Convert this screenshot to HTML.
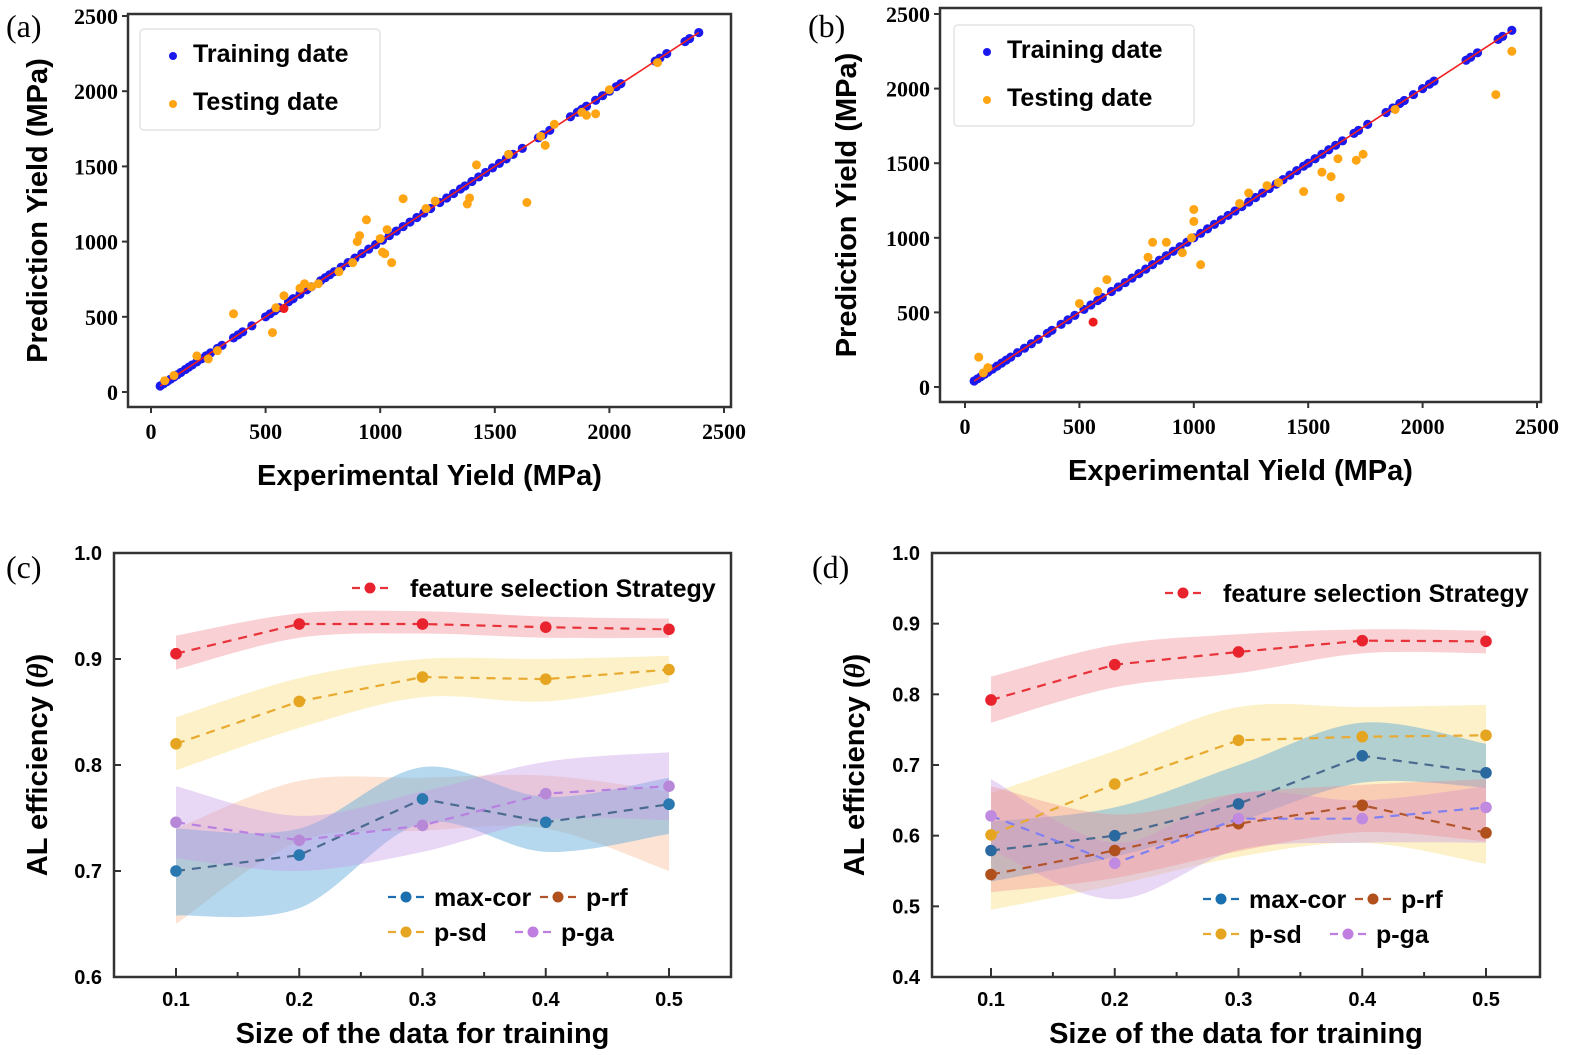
<!DOCTYPE html>
<html><head><meta charset="utf-8">
<style>
html,body{margin:0;padding:0;background:#fff;}
svg{display:block;}
.tk{font-family:"Liberation Serif",serif;font-weight:bold;font-size:22px;fill:#000;}
.tks{font-family:"Liberation Sans",sans-serif;font-weight:bold;font-size:20px;fill:#000;}
.ttl{font-family:"Liberation Sans",sans-serif;font-weight:bold;font-size:29px;fill:#000;}
.lg{font-family:"Liberation Sans",sans-serif;font-weight:bold;font-size:25px;fill:#000;}
.pl{font-family:"Liberation Serif",serif;font-size:32px;fill:#000;}
</style></head>
<body>
<svg id="fig" width="1571" height="1055" viewBox="0 0 1571 1055" xmlns="http://www.w3.org/2000/svg"></svg>
<script>
// ---------- data: scatter panels ----------
const trainA = [40,55,70,85,100,115,130,150,165,180,200,220,240,260,290,310,360,380,400,440,500,520,540,560,600,620,650,680,700,740,760,780,800,830,860,890,920,950,980,1010,1040,1070,1100,1130,1160,1190,1220,1260,1290,1320,1350,1370,1400,1430,1460,1490,1520,1550,1580,1620,1690,1710,1740,1830,1860,1880,1900,1940,1970,2000,2030,2050,2200,2220,2250,2330,2350,2390];
const trainB = [40,55,70,85,100,120,140,160,180,200,230,260,290,320,360,380,420,450,480,520,550,580,600,640,670,700,730,760,790,820,850,880,910,940,970,1000,1030,1060,1090,1120,1150,1180,1210,1240,1270,1300,1330,1360,1390,1420,1450,1480,1500,1530,1560,1590,1620,1650,1700,1720,1760,1840,1870,1900,1920,1960,2000,2030,2050,2190,2210,2240,2330,2350,2390];
const testAx = [60,100,200,250,290,360,530,545,580,650,670,700,730,820,880,900,910,940,1000,1010,1020,1030,1050,1100,1200,1240,1380,1390,1420,1560,1640,1700,1720,1760,1880,1900,1940,2000,2210];
const testAy = [75,110,240,220,275,520,395,560,640,690,720,700,720,800,860,1000,1040,1145,1020,930,920,1080,860,1285,1220,1270,1250,1290,1510,1580,1260,1700,1640,1780,1860,1840,1850,2010,2190];
const testBx = [60,80,100,500,580,620,800,820,880,950,990,1000,1000,1030,1200,1240,1320,1370,1480,1560,1600,1630,1640,1710,1740,1880,2320,2390];
const testBy = [200,95,130,560,640,720,870,970,970,900,1000,1190,1110,820,1230,1300,1350,1370,1310,1440,1410,1530,1270,1520,1560,1860,1960,2250];
const redAx=[580], redAy=[555];
const redBx=[560], redBy=[435];
const scTicks=[0,500,1000,1500,2000,2500];

// ---------- data: AL efficiency panels ----------
const sizes=[0.1,0.2,0.3,0.4,0.5];
const cTicks=[0.6,0.7,0.8,0.9,1.0];
const dTicks=[0.4,0.5,0.6,0.7,0.8,0.9,1.0];
const cRed=[0.905,0.933,0.933,0.930,0.928], cRedLo=[0.890,0.920,0.924,0.920,0.920], cRedHi=[0.922,0.943,0.945,0.940,0.938];
const cSd=[0.820,0.860,0.883,0.881,0.890], cSdLo=[0.795,0.835,0.864,0.860,0.878], cSdHi=[0.845,0.882,0.900,0.900,0.903];
const cMax=[0.700,0.715,0.768,0.746,0.763], cMaxLo=[0.658,0.665,0.745,0.718,0.735], cMaxHi=[0.740,0.740,0.798,0.770,0.788];
const cRfLo=[0.650,0.728,0.738,0.740,0.700], cRfHi=[0.740,0.785,0.788,0.790,0.775];
const cGa=[0.746,0.729,0.743,0.773,0.780], cGaLo=[0.712,0.700,0.718,0.748,0.748], cGaHi=[0.780,0.752,0.775,0.803,0.812];
const dRed=[0.792,0.842,0.860,0.876,0.875], dRedLo=[0.760,0.810,0.830,0.858,0.858], dRedHi=[0.825,0.870,0.885,0.892,0.890];
const dSd=[0.601,0.673,0.735,0.740,0.742], dSdLo=[0.495,0.530,0.570,0.590,0.560], dSdHi=[0.660,0.720,0.782,0.782,0.785];
const dMax=[0.579,0.600,0.645,0.713,0.689], dMaxLo=[0.535,0.570,0.620,0.675,0.668], dMaxHi=[0.620,0.640,0.700,0.760,0.730];
const dRf=[0.545,0.579,0.617,0.643,0.604], dRfLo=[0.520,0.540,0.578,0.605,0.592], dRfHi=[0.670,0.630,0.660,0.672,0.680];
const dGa=[0.628,0.561,0.624,0.624,0.640], dGaLo=[0.580,0.510,0.580,0.590,0.590], dGaHi=[0.680,0.590,0.660,0.650,0.670];

const NS='http://www.w3.org/2000/svg';
const svg=document.getElementById('fig');
function mk(tag,attrs,parent,txt){const e=document.createElementNS(NS,tag);for(const k in attrs)e.setAttribute(k,attrs[k]);if(txt!==undefined)e.textContent=txt;(parent||svg).appendChild(e);return e;}
function lin(d0,d1,r0,r1){return v=>r0+(v-d0)*(r1-r0)/(d1-d0);}

// ---------- scatter panel ----------
function scatter(cfg){
  const g=mk('g',{});
  
  
  const X=lin(0,2500,cfg.x0,cfg.x2500), Y=lin(0,2500,cfg.y0,cfg.y2500);
  const box=mk('rect',{x:cfg.L,y:cfg.T,width:cfg.R-cfg.L,height:cfg.B-cfg.T,fill:'none',stroke:'#333','stroke-width':2.5},g);
  
  
  scTicks.forEach(t=>{
    mk('line',{x1:X(t),x2:X(t),y1:cfg.B,y2:cfg.B+6,stroke:'#333','stroke-width':2},g);
    const tx=mk('text',{x:X(t),y:cfg.B+32,'text-anchor':'middle',class:'tk'},g,String(t));
    
    
    mk('line',{x1:cfg.L-6,x2:cfg.L,y1:Y(t),y2:Y(t),stroke:'#333','stroke-width':2},g);
    const ty=mk('text',{x:cfg.L-10,y:Y(t)+8,'text-anchor':'end',class:'tk'},g,String(t));
    
    
  });
  cfg.train.forEach(v=>{const c=mk('circle',{cx:X(v),cy:Y(v),r:4.6,fill:'#1a1aee'},g);
    
    });
  const fit=mk('line',{x1:X(cfg.train[0]),y1:Y(cfg.train[0]),x2:X(cfg.train[cfg.train.length-1]),y2:Y(cfg.train[cfg.train.length-1]),stroke:'#f02020','stroke-width':1.6},g);
  
  
  cfg.tx.forEach((v,i)=>{const c=mk('circle',{cx:X(v),cy:Y(cfg.ty[i]),r:4.5,fill:'#ffa514'},g);
    
    });
  cfg.rx.forEach((v,i)=>{const c=mk('circle',{cx:X(v),cy:Y(cfg.ry[i]),r:4.5,fill:'#ee1c1c'},g);
    
    });
  const lg=mk('g',{},g);
  
  
  mk('rect',{x:cfg.lx,y:cfg.ly,width:240,height:101,rx:4,fill:'#fff',stroke:'#e4e4e4','stroke-width':1.5},lg);
  mk('circle',{cx:cfg.lx+33,cy:cfg.ly+27,r:4,fill:'#1a1aee'},lg);
  const l1=mk('text',{x:cfg.lx+53,y:cfg.ly+33,class:'lg'},lg,'Training date');
  
  
  mk('circle',{cx:cfg.lx+33,cy:cfg.ly+75,r:4,fill:'#ffa514'},lg);
  const l2=mk('text',{x:cfg.lx+53,y:cfg.ly+81,class:'lg'},lg,'Testing date');
  
  
  const xt=mk('text',{x:(cfg.L+cfg.R)/2,y:cfg.B+78,'text-anchor':'middle',class:'ttl'},g,'Experimental Yield (MPa)');
  
  
  const yc=(cfg.T+cfg.B)/2;
  const yt=mk('text',{x:cfg.ytx,y:yc,'text-anchor':'middle',class:'ttl',transform:`rotate(-90 ${cfg.ytx} ${yc})`},g,'Prediction Yield (MPa)');
  
  
  const pl=mk('text',{x:cfg.plx,y:cfg.ply,class:'pl'},g,cfg.label);
  
  
}
scatter({name:'panel-a',L:128,R:731,T:14,B:407,x0:151,x2500:724,y0:392,y2500:16,train:trainA,tx:testAx,ty:testAy,rx:redAx,ry:redAy,lx:140,ly:29,ytx:47,plx:6,ply:37,label:'(a)'});
scatter({name:'panel-b',L:940,R:1541,T:8,B:402,x0:965,x2500:1537,y0:387,y2500:14,train:trainB,tx:testBx,ty:testBy,rx:redBx,ry:redBy,lx:954,ly:25,ytx:856,plx:808,ply:37,label:'(b)'});

// ---------- AL efficiency panel ----------
function smoothPath(pts){
  let d=`M${pts[0][0]},${pts[0][1]}`;
  for(let i=0;i<pts.length-1;i++){
    const p0=pts[i-1]||pts[i],p1=pts[i],p2=pts[i+1],p3=pts[i+2]||p2;
    const c1=[p1[0]+(p2[0]-p0[0])/6,p1[1]+(p2[1]-p0[1])/6];
    const c2=[p2[0]-(p3[0]-p1[0])/6,p2[1]-(p3[1]-p1[1])/6];
    d+=` C${c1[0]},${c1[1]} ${c2[0]},${c2[1]} ${p2[0]},${p2[1]}`;
  }
  return d;
}
function alPanel(cfg){
  const g=mk('g',{});
  
  
  const X=lin(0.1,0.5,cfg.x1,cfg.x5), Y=lin(cfg.ymin,1.0,cfg.B,cfg.T);
  cfg.bands.forEach(b=>{
    const up=sizes.map((s,i)=>[X(s),Y(b.hi[i])]);
    const lo=sizes.map((s,i)=>[X(s),Y(b.lo[i])]).reverse();
    const d=smoothPath(up)+' L'+lo[0][0]+','+lo[0][1]+smoothPath(lo).replace(/^M[^ ]+/,'')+' Z';
    const p=mk('path',{d:d,fill:b.fill,'fill-opacity':b.op},g);
    
    
  });
  cfg.series.forEach(s=>{
    const pts=sizes.map((x,i)=>[X(x),Y(s.v[i])]);
    const l=mk('polyline',{points:pts.map(p=>p.join(',')).join(' '),fill:'none',stroke:s.line,'stroke-width':2.2,'stroke-dasharray':'9,7'},g);
    
    
    pts.forEach(p=>{const c=mk('circle',{cx:p[0],cy:p[1],r:5.8,fill:s.dot},g);
      
      });
  });
  const box=mk('rect',{x:cfg.L,y:cfg.T,width:cfg.R-cfg.L,height:cfg.B-cfg.T,fill:'none',stroke:'#333','stroke-width':2.5},g);
  
  
  sizes.forEach((s,i)=>{
    mk('line',{x1:X(s),x2:X(s),y1:cfg.B,y2:cfg.B-9,stroke:'#333','stroke-width':2},g);
    if(i<4) mk('line',{x1:X(s+0.05),x2:X(s+0.05),y1:cfg.B,y2:cfg.B-5,stroke:'#333','stroke-width':2},g);
    const t=mk('text',{x:X(s),y:cfg.B+29,'text-anchor':'middle',class:'tks'},g,s.toFixed(1));
    
    
  });
  cfg.ticks.forEach(v=>{
    mk('line',{x1:cfg.L,x2:cfg.L+7,y1:Y(v),y2:Y(v),stroke:'#333','stroke-width':2},g);
    const t=mk('text',{x:cfg.L-12,y:Y(v)+7,'text-anchor':'end',class:'tks'},g,v.toFixed(1));
    
    
  });
  function lgEntry(x,y,col,dot,label){
    const e=mk('g',{},g);
    
    
    mk('line',{x1:x,x2:x+40,y1:y,y2:y,stroke:col,'stroke-width':2.2,'stroke-dasharray':'8,6'},e);
    mk('circle',{cx:x+18,cy:y,r:5.5,fill:dot},e);
    mk('text',{x:x+46,y:y+9,class:'lg'},e,label);
  }
  lgEntry(cfg.fx,cfg.fy,'#e8333a','#e8232e','');
  const ft=mk('text',{x:cfg.fx+58,y:cfg.fy+9,class:'lg'},g,'feature selection Strategy');
  
  
  lgEntry(cfg.lx,cfg.ly,'#1f6fb0','#1a6faf','max-cor');
  lgEntry(cfg.lx+152,cfg.ly,'#b3552a','#b0501c','p-rf');
  lgEntry(cfg.lx,cfg.ly+35,'#e8aa30','#e6a520','p-sd');
  lgEntry(cfg.lx+127,cfg.ly+35,'#c07ee0','#c07ee0','p-ga');
  const xt=mk('text',{x:(cfg.L+cfg.R)/2,y:cfg.B+66,'text-anchor':'middle',class:'ttl'},g,'Size of the data for training');
  
  
  const yc=(cfg.T+cfg.B)/2;
  const yt=mk('text',{x:cfg.ytx,y:yc,'text-anchor':'middle',class:'ttl',transform:`rotate(-90 ${cfg.ytx} ${yc})`},g);
  
  
  mk('tspan',{},yt,'AL efficiency (');
  mk('tspan',{'font-style':'italic','font-family':'Liberation Serif, serif'},yt,'θ');
  mk('tspan',{},yt,')');
  const pl=mk('text',{x:cfg.plx,y:cfg.ply,class:'pl'},g,cfg.label);
  
  
}
alPanel({name:'panel-c',L:114,R:731,T:553,B:977,x1:176,x5:669,ymin:0.6,ticks:cTicks,
  bands:[
    {lo:cSdLo,hi:cSdHi,fill:'#f6d860',op:0.35},
    {lo:cRfLo,hi:cRfHi,fill:'#f7b890',op:0.4},
    {lo:cMaxLo,hi:cMaxHi,fill:'#5aa8dc',op:0.45},
    {lo:cGaLo,hi:cGaHi,fill:'#c79ae8',op:0.4},
    {lo:cRedLo,hi:cRedHi,fill:'#f08a90',op:0.4}],
  series:[
    {key:'feature-selection',v:cRed,line:'#e8333a',dot:'#e8232e'},
    {key:'p-sd',v:cSd,line:'#e8aa30',dot:'#e6a520'},
    {key:'max-cor',v:cMax,line:'#4a6a90',dot:'#2a78b0'},
    {key:'p-ga',v:cGa,line:'#b880e0',dot:'#b888d8'}],
  fx:352,fy:588,lx:388,ly:897,ytx:47,plx:6,ply:578,label:'(c)'});
alPanel({name:'panel-d',L:932,R:1540,T:553,B:977,x1:991,x5:1486,ymin:0.4,ticks:dTicks,
  bands:[
    {lo:dSdLo,hi:dSdHi,fill:'#f6d860',op:0.35},
    {lo:dMaxLo,hi:dMaxHi,fill:'#5aa8dc',op:0.45},
    {lo:dGaLo,hi:dGaHi,fill:'#c79ae8',op:0.4},
    {lo:dRfLo,hi:dRfHi,fill:'#f08a90',op:0.35},
    {lo:dRedLo,hi:dRedHi,fill:'#f08a90',op:0.4}],
  series:[
    {key:'feature-selection',v:dRed,line:'#e8333a',dot:'#e8232e'},
    {key:'p-sd',v:dSd,line:'#e8aa30',dot:'#e6a520'},
    {key:'max-cor',v:dMax,line:'#4a6a90',dot:'#2a68a0'},
    {key:'p-rf',v:dRf,line:'#b3552a',dot:'#b0501c'},
    {key:'p-ga',v:dGa,line:'#8080f0',dot:'#c08ae0'}],
  fx:1165,fy:593,lx:1203,ly:899,ytx:864,plx:812,ply:578,label:'(d)'});
</script>
</body></html>
